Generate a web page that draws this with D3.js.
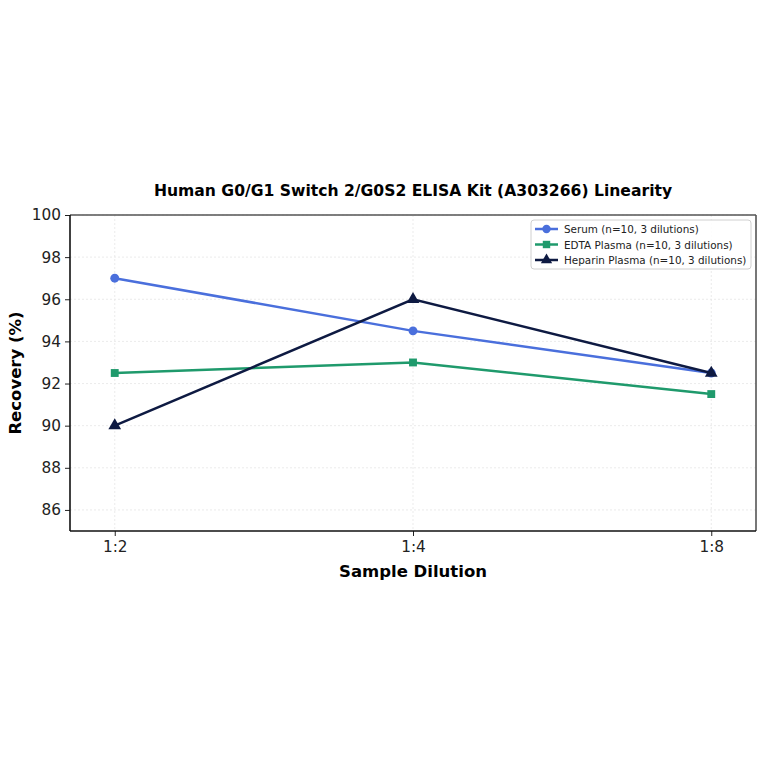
<!DOCTYPE html>
<html>
<head>
<meta charset="utf-8">
<script src="https://cdn.jsdelivr.net/npm/d3@7"></script>
<style>
body { margin: 0; background: #fff; }
text { font-family: "DejaVu Sans", sans-serif; }
</style>
</head>
<body>
<script>
var width = 764;
var height = 764;

var dilutions = ["1:2", "1:4", "1:8"];
var serum = [97.0, 94.5, 92.5];
var edta = [92.5, 93.0, 91.5];
var heparin = [90.0, 96.0, 92.5];
var yTicks = [86, 88, 90, 92, 94, 96, 98, 100];

var series = [
    { name: "Serum (n=10, 3 dilutions)", values: serum, color: "#4a6fdc", shape: d3.symbolCircle },
    { name: "EDTA Plasma (n=10, 3 dilutions)", values: edta, color: "#1f9a6c", shape: d3.symbolSquare },
    { name: "Heparin Plasma (n=10, 3 dilutions)", values: heparin, color: "#0e1a42", shape: d3.symbolTriangle }
];

var plotL = 70, plotR = 756, plotT = 215, plotB = 531;

var svg = d3.select("body")
    .append("svg")
    .attr("width", width)
    .attr("height", height);

var x = d3.scaleLinear().domain([-0.15, 2.15]).range([plotL, plotR]);
var y = d3.scaleLinear().domain([85, 100]).range([plotB, plotT]);

// grid
svg.append("g")
    .selectAll("line")
    .data(yTicks)
    .enter()
    .append("line")
    .attr("x1", plotL).attr("x2", plotR)
    .attr("y1", function (d) { return y(d); })
    .attr("y2", function (d) { return y(d); })
    .attr("stroke", "#e6e6e6")
    .attr("stroke-dasharray", "2,2")
    .attr("stroke-width", 0.8);
svg.append("g")
    .selectAll("line")
    .data(dilutions)
    .enter()
    .append("line")
    .attr("y1", plotT).attr("y2", plotB)
    .attr("x1", function (d, i) { return x(i); })
    .attr("x2", function (d, i) { return x(i); })
    .attr("stroke", "#e6e6e6")
    .attr("stroke-dasharray", "2,2")
    .attr("stroke-width", 0.8);

// axes
var yAxis = d3.axisLeft(y).tickValues(yTicks).tickSize(5).tickPadding(4);
var gy = svg.append("g").attr("transform", "translate(" + plotL + ",0)").call(yAxis);
var xAxis = d3.axisBottom(x).tickValues([0, 1, 2])
    .tickFormat(function (d) { return dilutions[d]; }).tickSize(5).tickPadding(5);
var gx = svg.append("g").attr("transform", "translate(0," + plotB + ")").call(xAxis);
[gx, gy].forEach(function (g) {
    g.select(".domain").remove();
    g.selectAll("text").attr("font-size", 15.3).attr("fill", "#222");
    g.selectAll("line").attr("stroke", "#222");
});

// frame
svg.append("line").attr("x1", plotL).attr("x2", plotR).attr("y1", plotT).attr("y2", plotT)
    .attr("stroke", "#555").attr("stroke-width", 1.6);
svg.append("line").attr("x1", plotR).attr("x2", plotR).attr("y1", plotT).attr("y2", plotB)
    .attr("stroke", "#555").attr("stroke-width", 1.6);
svg.append("line").attr("x1", plotL).attr("x2", plotL).attr("y1", plotT).attr("y2", plotB)
    .attr("stroke", "#111").attr("stroke-width", 1.6);
svg.append("line").attr("x1", plotL).attr("x2", plotR).attr("y1", plotB).attr("y2", plotB)
    .attr("stroke", "#111").attr("stroke-width", 1.6);

// lines
var line = d3.line()
    .x(function (d, i) { return x(i); })
    .y(function (d) { return y(d); });

series.forEach(function (s) {
    svg.append("path")
        .datum(s.values)
        .attr("d", line)
        .attr("fill", "none")
        .attr("stroke", s.color)
        .attr("stroke-width", 2.5);
    svg.selectAll(null)
        .data(s.values)
        .enter()
        .append("path")
        .attr("d", d3.symbol().type(s.shape).size(s.shape === d3.symbolTriangle ? 70 : 62))
        .attr("transform", function (d, i) { return "translate(" + x(i) + "," + y(d) + ")"; })
        .attr("fill", s.color);
});

// title and labels
svg.append("text")
    .attr("x", (plotL + plotR) / 2).attr("y", 196)
    .attr("text-anchor", "middle")
    .attr("font-size", 15.6).attr("font-weight", "bold")
    .text("Human G0/G1 Switch 2/G0S2 ELISA Kit (A303266) Linearity");
svg.append("text")
    .attr("x", (plotL + plotR) / 2).attr("y", 577)
    .attr("text-anchor", "middle")
    .attr("font-size", 16.5).attr("font-weight", "bold")
    .text("Sample Dilution");
svg.append("text")
    .attr("transform", "translate(21," + (plotT + plotB) / 2 + ") rotate(-90)")
    .attr("text-anchor", "middle")
    .attr("font-size", 16.5).attr("font-weight", "bold")
    .text("Recovery (%)");

// legend
var lg = svg.append("g").attr("transform", "translate(531,220)");
lg.append("rect")
    .attr("width", 220).attr("height", 49).attr("rx", 3)
    .attr("fill", "#fff").attr("fill-opacity", 0.85)
    .attr("stroke", "#d0d0d0");
series.forEach(function (s, i) {
    var row = lg.append("g").attr("transform", "translate(0," + (9 + i * 15.5) + ")");
    row.append("line").attr("x1", 4).attr("x2", 27).attr("y1", 0).attr("y2", 0)
        .attr("stroke", s.color).attr("stroke-width", 2.5);
    row.append("path")
        .attr("d", d3.symbol().type(s.shape).size(55))
        .attr("transform", "translate(15.5,0)")
        .attr("fill", s.color);
    row.append("text").attr("x", 33).attr("y", 4)
        .attr("font-size", 10.4).attr("fill", "#222")
        .text(s.name);
});
</script>
</body>
</html>
